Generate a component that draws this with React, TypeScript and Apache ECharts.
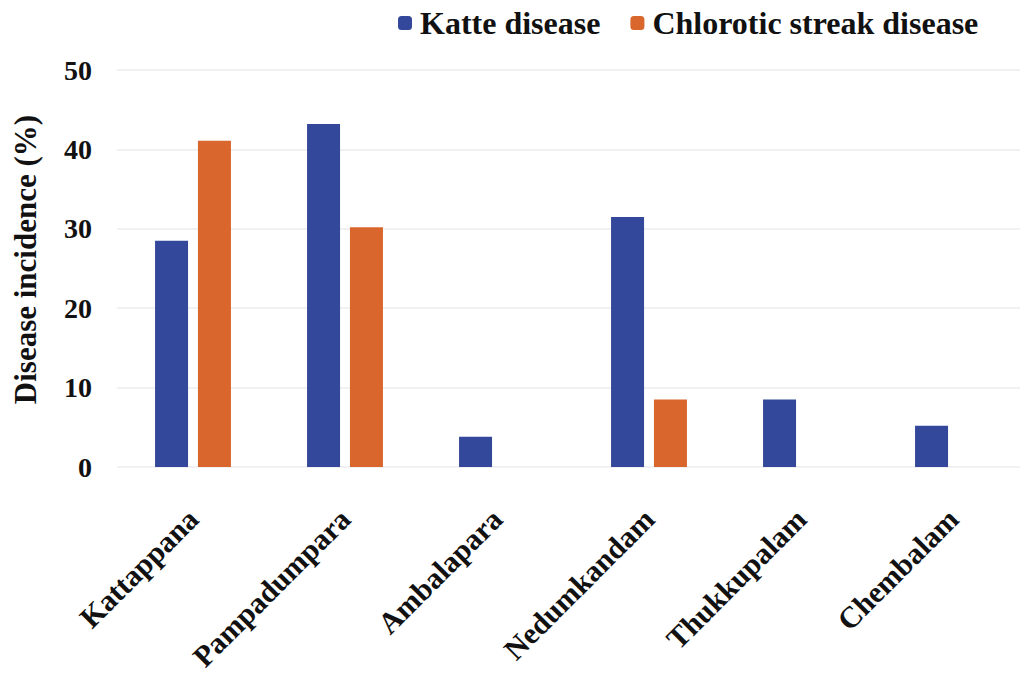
import React, { useEffect, useRef } from "react";
import * as echarts from "echarts";

const categories = ["Kattappana", "Pampadumpara", "Ambalapara", "Nedumkandam", "Thukkupalam", "Chembalam"];
const katte = [28.5, 43.2, 3.8, 31.5, 8.5, 5.2];
const chlorotic = [41.1, 30.2, null, 8.5, null, null];
const yTicks = { min: 0, max: 50, interval: 10 };

export default function App() {
  const ref = useRef<HTMLDivElement>(null);
  useEffect(() => {
    const chart = echarts.init(ref.current!, null, { renderer: "svg" });
    const font = "'Liberation Serif', 'DejaVu Serif', serif";
    chart.setOption({
      animation: false,
      backgroundColor: "#ffffff",
      textStyle: { fontFamily: font },
      legend: {
        top: 2,
        left: 393,
        itemWidth: 14,
        itemHeight: 14,
        itemGap: 30,
        textStyle: { fontFamily: font, fontWeight: "bold", fontSize: 32, color: "#111", padding: [0, 0, 0, 3] },
        data: ["Katte disease", "Chlorotic streak disease"],
      },
      grid: { left: 117, width: 912, top: 70, bottom: 207, outerBoundsMode: "none", containLabel: false },
      xAxis: {
        type: "category",
        data: categories,
        axisLine: { show: false },
        axisTick: { show: false },
        axisLabel: {
          rotate: 45,
          margin: 47,
          fontFamily: font,
          fontWeight: "bold",
          fontSize: 30,
          color: "#111",
          interval: 0,
        },
      },
      yAxis: {
        type: "value",
        min: yTicks.min,
        max: yTicks.max,
        interval: yTicks.interval,
        name: "Disease incidence (%)",
        nameLocation: "middle",
        nameGap: 76,
        nameTextStyle: { fontFamily: font, fontWeight: "bold", fontSize: 31, color: "#111", padding: [0, 0, 0, 18] },
        axisLabel: { fontFamily: font, fontWeight: "bold", fontSize: 28, color: "#111", margin: 25 },
        axisLine: { show: false },
        axisTick: { show: false },
        splitLine: { lineStyle: { color: "#ececec", width: 1.5 } },
      },
      series: [
        {
          name: "Katte disease",
          type: "bar",
          data: katte,
          barWidth: 33,
          barGap: "30%",
          itemStyle: { color: "#33489a" },
        },
        {
          name: "Chlorotic streak disease",
          type: "bar",
          data: chlorotic,
          barWidth: 33,
          barGap: "30%",
          itemStyle: { color: "#d9662c" },
        },
      ],
    });
    return () => chart.dispose();
  }, []);
  return <div ref={ref} style={{ position: "fixed", left: 0, top: 0, width: 1020, height: 674 }} />;
}
